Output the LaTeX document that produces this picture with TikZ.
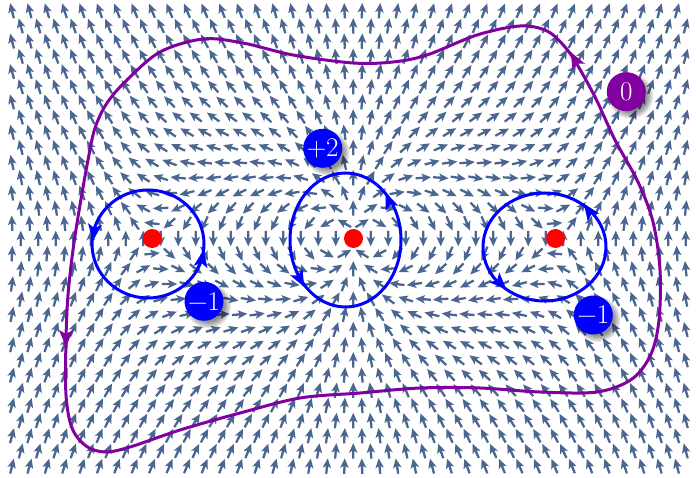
\documentclass[tikz,border=0pt]{standalone}
\usepackage{fontspec}
\definecolor{fieldcol}{RGB}{74,102,145}
\definecolor{loopblue}{RGB}{0,0,255}
\definecolor{curvepurple}{RGB}{128,0,160}
\definecolor{dotred}{RGB}{255,0,0}
\newcommand\headat[4]{\fill[#4,shift={(#1,#2)},rotate=#3] (9,0) -- (-8,7) -- (-4,0) -- (-8,-7) -- cycle;}
\newcommand\idxlabel[5]{%
  \foreach \s in {0,...,5}{\fill[black,opacity=0.09] (#1+4.5,#2+4.5) circle ({22.5-\s*1.3});}
  \node[idxnode,fill=#3] (#5) at (#1,#2) {#4};}
\tikzset{
  idxnode/.style={circle,minimum size=39pt,inner sep=0pt,text=white,font=\fontsize{27}{29}\selectfont},
  loopline/.style={draw=loopblue,line width=3pt},
  outerline/.style={draw=curvepurple,line width=3pt},
  sing/.style={circle,fill=dotred,minimum size=19pt,inner sep=0pt}
}
\begin{document}
\begin{tikzpicture}[x=1pt,y=-1pt]
\useasboundingbox (0,0) rectangle (696,478);
\fill[white] (0,0) rectangle (696,478);
% vector field  f = i z^2 conj(z^2-1)
\foreach \r in {0,...,30}{
  \foreach \n in {0,...,38}{
    \pgfmathsetmacro\yy{10.8+15.18*\r}
    \pgfmathsetmacro\xx{12+17.5*\n+8.75*mod(\r,2)}
    \pgfmathsetmacro\X{(\xx-353.5)/201.6}
    \pgfmathsetmacro\Y{(238.5-\yy)/201.6}
    \pgfmathsetmacro\P{\X*\X-\Y*\Y}
    \pgfmathsetmacro\Q{2*\X*\Y}
    \pgfmathsetmacro\V{\P*\P+\Q*\Q-\P+0.00001}
    \pgfmathsetmacro\A{atan2(\V,\Q)}
    \fill[fieldcol,shift={(\xx,\yy)},rotate=\A] (7.8,0) -- (-1.8,4.3) -- (0,1.2) -- (-7.6,1.1) -- (-7.6,-1.1) -- (0,-1.2) -- (-1.8,-4.3) -- cycle;
  }
}
% outer curve
\draw[outerline] plot[smooth cycle,tension=0.55] coordinates {
  (520,26) (547,31) (565,47) (578,66) (596,99) (615,140) (638,182) (653,222) (660,270) (659,320) (651,354) (632,379)
  (597,392) (540,392) (480,388) (420,388) (360,393) (300,398) (240,413) (180,430) (130,447)
  (105,452) (86,446) (72,428) (66,395) (66,340) (68,295) (73,250) (80,205) (88,160) (95,128)
  (107,103) (127,80) (160,52) (203,39) (243,43) (293,55) (353,63) (393,62) (427,55) (477,35)};
\headat{575}{60}{118}{curvepurple}
\headat{66}{338}{-90}{curvepurple}
% loops
\draw[loopline] (148,244) ellipse [x radius=56, y radius=54];
\draw[loopline] (345.5,240) ellipse [x radius=55.5, y radius=67];
\draw[loopline] (544.5,247) ellipse [x radius=61.5, y radius=54];
\headat{94}{232}{-97}{loopblue}
\headat{202}{259}{80}{loopblue}
\headat{389}{201}{112}{loopblue}
\headat{300}{279}{-62}{loopblue}
\headat{589}{211}{125}{loopblue}
\headat{500}{283}{-45}{loopblue}
% singular points
\node[sing] (pL) at (152.2,238.5) {};
\node[sing] (pC) at (353.5,238.5) {};
\node[sing] (pR) at (555.5,238.5) {};
% index labels
\idxlabel{322.7}{148.3}{loopblue}{+2}{lC}
\idxlabel{626.3}{91.7}{curvepurple}{0}{lO}
\idxlabel{204}{301.3}{loopblue}{−1}{lL}
\idxlabel{593.3}{315}{loopblue}{−1}{lR}
\end{tikzpicture}
\end{document}
